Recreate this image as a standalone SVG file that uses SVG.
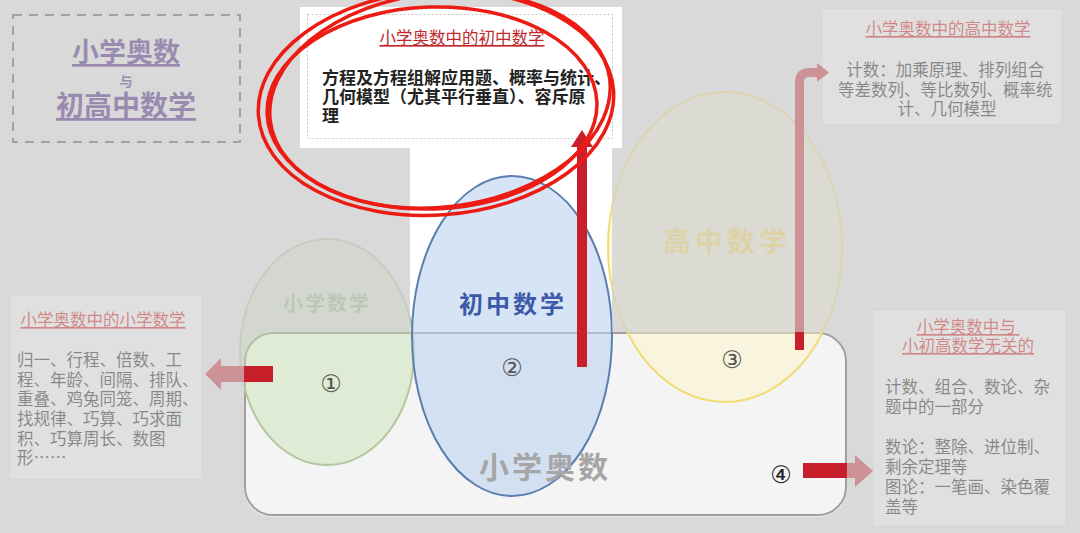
<svg xmlns="http://www.w3.org/2000/svg" width="1080" height="533" viewBox="0 0 1080 533">
<style>
.cjk{font-family:"Noto Sans CJK SC","Noto Sans CJK JP",sans-serif}
.side{font-size:16.5px;fill:#000}
.ttl{font-size:16.5px;fill:#d40000;text-decoration:underline}
.arrow{fill:#c8202a}
.num{font-family:"DejaVu Sans",sans-serif;font-size:24px;fill:#555;text-anchor:middle}
.scrib{fill:none;stroke:#ec1c14;stroke-width:3.5}
</style>
<defs>
<mask id="dim">
<rect width="1080" height="533" fill="#fff"/>
<rect x="244" y="332" width="603" height="185" rx="28" fill="#000"/>
<rect x="410" y="148" width="202" height="190" fill="#000"/>
<rect x="300" y="7" width="322" height="141" fill="#000"/>
</mask>
</defs>
<rect width="1080" height="533" fill="#ececec"/>
<rect x="410" y="140" width="202" height="200" fill="#fff"/>

<g id="title">
<rect x="13" y="15" width="227" height="127" fill="none" stroke="#4a4a60" stroke-width="2" stroke-dasharray="9,7"/>
<text class="cjk" x="126" y="62" font-size="27" font-weight="bold" fill="#360e75" text-anchor="middle" text-decoration="underline">小学奥数</text>
<text class="cjk" x="126" y="86" font-size="13" font-weight="bold" fill="#360e75" text-anchor="middle">与</text>
<text class="cjk" x="126" y="116" font-size="28" font-weight="bold" fill="#360e75" text-anchor="middle" text-decoration="underline">初高中数学</text>
</g>

<g id="box-middle">
<rect x="300" y="7" width="322" height="141" fill="#fff"/>
<rect x="307.5" y="14.5" width="305" height="124" fill="none" stroke="#c8c8c8" stroke-dasharray="2,2"/>
<text class="cjk" x="462" y="44" font-size="16.5" fill="#c0282d" text-anchor="middle" text-decoration="underline">小学奥数中的初中数学</text>
<text class="cjk" font-size="17" font-weight="bold" fill="#222">
<tspan x="322" y="84">方程及方程组解应用题、概率与统计、</tspan>
<tspan x="322" y="103">几何模型（尤其平行垂直）、容斥原</tspan>
<tspan x="322" y="122">理</tspan>
</text>
</g>

<g id="box-high">
<rect x="822" y="9" width="240" height="116" fill="#fff" stroke="#e0e0e0"/>
<text class="cjk ttl" x="948" y="35" text-anchor="middle">小学奥数中的高中数学</text>
<text class="cjk side" text-anchor="middle">
<tspan x="947" y="76">计数：加乘原理、排列组合</tspan>
<tspan x="947" y="96">等差数列、等比数列、概率统</tspan>
<tspan x="947" y="115">计、几何模型</tspan>
</text>
</g>

<g id="box-primary">
<rect x="10" y="295" width="192" height="184" fill="#fff" stroke="#e0e0e0"/>
<text class="cjk ttl" x="103" y="326" text-anchor="middle">小学奥数中的小学数学</text>
<text class="cjk side">
<tspan x="17" y="366">归一、行程、倍数、工</tspan>
<tspan x="17" y="386">程、年龄、间隔、排队、</tspan>
<tspan x="17" y="405">重叠、鸡兔同笼、周期、</tspan>
<tspan x="17" y="425">找规律、巧算、巧求面</tspan>
<tspan x="17" y="445">积、巧算周长、数图</tspan>
<tspan x="17" y="464">形……</tspan>
</text>
</g>

<g id="box-unrelated">
<rect x="873" y="310" width="193" height="216" fill="#fff" stroke="#e0e0e0"/>
<text class="cjk ttl" text-anchor="middle">
<tspan x="968" y="333">小学奥数中与</tspan>
<tspan x="968" y="352">小初高数学无关的</tspan>
</text>
<text class="cjk side">
<tspan x="885" y="393">计数、组合、数论、杂</tspan>
<tspan x="885" y="413">题中的一部分</tspan>
<tspan x="885" y="453">数论：整除、进位制、</tspan>
<tspan x="885" y="473">剩余定理等</tspan>
<tspan x="885" y="493">图论：一笔画、染色覆</tspan>
<tspan x="885" y="513">盖等</tspan>
</text>
</g>

<g id="olympiad">
<rect x="245" y="333" width="601" height="182" rx="28" fill="#f4f4f4" stroke="#a0a0a0" stroke-width="2"/>
</g>

<g id="primary-math">
<ellipse cx="327" cy="352" rx="87" ry="113" fill="#c8e0b0" fill-opacity="0.45" stroke="#b4c8a0" stroke-width="2"/>
<text class="cjk" x="327" y="311" font-size="20" font-weight="bold" fill="#97ba81" text-anchor="middle" letter-spacing="2">小学数学</text>
<text class="num" x="331" y="392">①</text>
</g>

<g id="middle-math">
<ellipse cx="512" cy="336" rx="100" ry="160" fill="#bcd2ee" fill-opacity="0.6" stroke="#5b7fae" stroke-width="2"/>
<text class="cjk" x="513" y="313" font-size="24" font-weight="bold" fill="#3c5aa8" text-anchor="middle" letter-spacing="3">初中数学</text>
<text class="num" x="512" y="376">②</text>
</g>

<g id="high-math">
<ellipse cx="725" cy="247" rx="117" ry="155" fill="#fbf3c8" fill-opacity="0.5" stroke="#f0dc70" stroke-width="2"/>
<text class="cjk" x="727" y="252" font-size="28" font-weight="bold" fill="#f5d860" text-anchor="middle" letter-spacing="4">高中数学</text>
<text class="num" x="732" y="368">③</text>
</g>

<g id="olympiad-label">
<text class="cjk" x="545" y="478" font-size="30" font-weight="bold" fill="#a6a6a6" text-anchor="middle" letter-spacing="3">小学奥数</text>
<text class="num" x="781" y="483" style="fill:#222">④</text>
</g>

<g id="connectors">
<polygon class="arrow" points="205,374 221,358 221,366 273,366 273,382 221,382 221,390"/>
<polygon class="arrow" points="577,367 577,147 571,147 582,130 593,147 587,147 587,367"/>
<path d="M799.5,350 V82 Q799.5,72.5 809.5,72.5 H819" fill="none" stroke="#c8202a" stroke-width="9"/>
<polygon class="arrow" points="817,63 829,72.5 817,82"/>
<polygon class="arrow" points="803,463 855,463 855,455 873,471 855,487 855,478 803,478"/>
</g>

<rect width="1080" height="533" fill="#d0d0d0" fill-opacity="0.65" mask="url(#dim)"/>

<g id="annotation">
<ellipse class="scrib" cx="436" cy="103" rx="178" ry="112" transform="rotate(-4 436 103)"/>
<ellipse class="scrib" cx="440" cy="100" rx="171" ry="107" transform="rotate(-7 440 100)"/>
<ellipse class="scrib" cx="432" cy="108" rx="165" ry="101" transform="rotate(-2 432 108)"/>
</g>
</svg>
